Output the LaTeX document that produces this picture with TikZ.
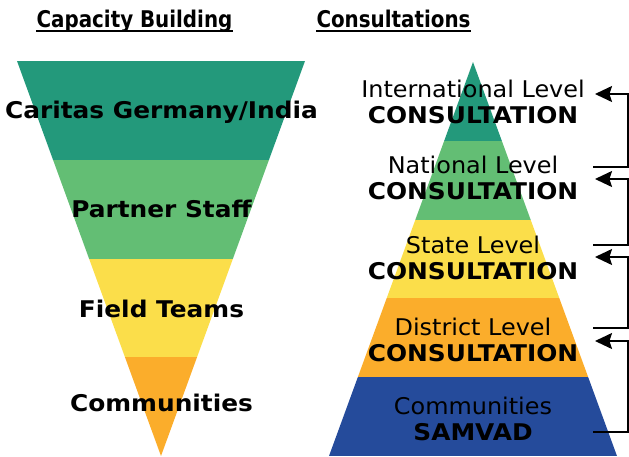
\documentclass[tikz,border=0pt]{standalone}
\usepackage{fontspec}
\setmainfont{DejaVu Sans}[FakeStretch=1.04]
\newfontfamily\stagefont{DejaVu Sans}[FakeStretch=1.08]
\newfontfamily\headfont{DejaVu Sans Condensed}[FakeStretch=0.96]
\usetikzlibrary{arrows.meta}
\definecolor{lvlteal}{RGB}{35,153,123}
\definecolor{lvlgreen}{RGB}{99,190,116}
\definecolor{lvlyellow}{RGB}{251,222,74}
\definecolor{lvlorange}{RGB}{251,173,43}
\definecolor{lvlblue}{RGB}{37,75,155}

\begin{document}
\begin{tikzpicture}[x=1pt, y=-1pt,
    head/.style={font=\headfont\bfseries\fontsize{23}{26}\selectfont, anchor=base, inner sep=0pt, text depth=4pt},
    stage/.style={font=\stagefont\bfseries\fontsize{23}{26}\selectfont, anchor=base, inner sep=0pt},
    level/.style={font=\fontsize{23}{26}\selectfont, align=center, inner sep=0pt},
    arr/.style={-{Stealth[length=17pt, width=16pt, inset=2.5pt]}, line width=1.5pt}
  ]
    \useasboundingbox (0,0) rectangle (629,456);

    % funnel: capacity building
    \begin{scope}
      \clip (17,61) -- (305,61) -- (161,456) -- cycle;
      \foreach \c [count=\i] in {lvlteal, lvlgreen, lvlyellow, lvlorange}
        \fill[\c] (0,{61+98.75*(\i-1)}) rectangle (330,{61+98.75*\i});
    \end{scope}

    % pyramid: consultations
    \begin{scope}
      \clip (473,62) -- (617,456) -- (329,456) -- cycle;
      \foreach \c [count=\i] in {lvlteal, lvlgreen, lvlyellow, lvlorange, lvlblue}
        \fill[\c] (320,{62+78.8*(\i-1)}) rectangle (629,{62+78.8*\i});
    \end{scope}

    \node[head] (capb) at (134.5,27) {Capacity Building};
    \node[head] (cons) at (393.5,27) {Consultations};
    \draw[line width=2pt] (capb.south west) -- (capb.south east);
    \draw[line width=2pt] (cons.south west) -- (cons.south east);

    \node[stage] (caritas) at (161.5,118) {Caritas Germany/India};
    \node[stage] (partner) at (161.5,217) {Partner Staff};
    \node[stage] (field) at (161.5,317) {Field Teams};
    \node[stage] (comm) at (161.5,411) {Communities};

    \node[level] (intl) at (473,102) {International Level\\{\stagefont\bfseries CONSULTATION}};
    \node[level] (natl) at (473,177.5) {National Level\\{\stagefont\bfseries CONSULTATION}};
    \node[level] (state) at (473,258) {State Level\\{\stagefont\bfseries CONSULTATION}};
    \node[level] (dist) at (473,339.5) {District Level\\{\stagefont\bfseries CONSULTATION}};
    \node[level] (samvad) at (473,419) {Communities\\{\stagefont\bfseries SAMVAD}};

    \coordinate (in1) at (595,94);
    \coordinate (in2) at (595,179);
    \coordinate (in3) at (595,257);
    \coordinate (in4) at (595,341);
    \coordinate (out1) at (593,167);
    \coordinate (out2) at (593,245);
    \coordinate (out3) at (593,328);
    \coordinate (out4) at (593,432);

    \draw[arr] (out1) -- ++(35,0) |- (in1);
    \draw[arr] (out2) -- ++(35,0) |- (in2);
    \draw[arr] (out3) -- ++(35,0) |- (in3);
    \draw[arr] (out4) -- ++(35,0) |- (in4);
  \end{tikzpicture}
\end{document}
